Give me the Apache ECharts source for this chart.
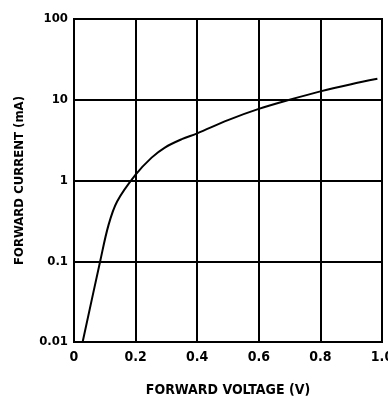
<!DOCTYPE html>
<html>
<head>
<meta charset="utf-8">
<script src="https://cdn.jsdelivr.net/npm/echarts@6/dist/echarts.min.js"></script>
<style>
html,body{margin:0;padding:0;background:#fff;}
#chart{width:388px;height:403px;}
</style>
</head>
<body>
<div id="chart"></div>
<script>
// Forward voltage (V)
const voltage = [0.028, 0.085, 0.112, 0.14, 0.2, 0.252, 0.295, 0.35, 0.4, 0.5, 0.6, 0.7, 0.8, 0.9, 0.985];
// Forward current (mA)
const current = [0.01, 0.1, 0.28, 0.55, 1.18, 1.92, 2.56, 3.25, 3.84, 5.6, 7.7, 10.0, 12.7, 15.6, 18.2];
const xTicks = [0, 0.2, 0.4, 0.6, 0.8, 1.0];
const yTicks = [0.01, 0.1, 1, 10, 100];
const xTitle = 'FORWARD VOLTAGE (V)';
const yTitle = 'FORWARD CURRENT (mA)';

const FONT = '"Liberation Sans Narrow","DejaVu Sans Condensed","DejaVu Sans",sans-serif';
const chart = echarts.init(document.getElementById('chart'), null, {renderer: 'canvas'});
chart.setOption({
  animation: false,
  backgroundColor: '#fff',
  grid: {left: 74, right: 6, top: 19, bottom: 61, show: true, borderColor: '#000', borderWidth: 2,
         containLabel: false, outerBoundsMode: 'none'},
  xAxis: {
    type: 'value', min: xTicks[0], max: xTicks[xTicks.length - 1], interval: 0.2,
    name: xTitle, nameLocation: 'middle', nameGap: 41,
    nameTextStyle: {fontFamily: FONT, fontWeight: 'bold', fontSize: 14, color: '#000'},
    axisLine: {show: true, lineStyle: {color: '#000', width: 2}},
    axisTick: {show: false},
    splitLine: {show: true, lineStyle: {color: '#000', width: 2}},
    axisLabel: {
      fontFamily: FONT, fontWeight: 'bold', fontSize: 14, color: '#000', margin: 8,
      showMinLabel: true, showMaxLabel: true, hideOverlap: false,
      formatter: v => (v === 0 ? '0' : v.toFixed(1))
    }
  },
  yAxis: {
    type: 'log', logBase: 10, min: yTicks[0], max: yTicks[yTicks.length - 1],
    name: yTitle, nameLocation: 'middle', nameGap: 48,
    nameTextStyle: {fontFamily: FONT, fontWeight: 'bold', fontSize: 13, color: '#000'},
    axisLine: {show: true, lineStyle: {color: '#000', width: 2}},
    axisTick: {show: false},
    splitLine: {show: true, lineStyle: {color: '#000', width: 2}},
    axisLabel: {
      fontFamily: FONT, fontWeight: 'bold', fontSize: 13, color: '#000', margin: 6,
      formatter: v => {
        const r = yTicks.find(t => Math.abs(t - v) / t < 1e-6);
        return r !== undefined ? String(r) : '';
      }
    }
  },
  series: [{
    type: 'line',
    data: voltage.map((v, i) => [v, current[i]]),
    smooth: 0.35,
    showSymbol: false,
    lineStyle: {color: '#000', width: 2},
    clip: true
  }]
});
</script>
</body>
</html>
